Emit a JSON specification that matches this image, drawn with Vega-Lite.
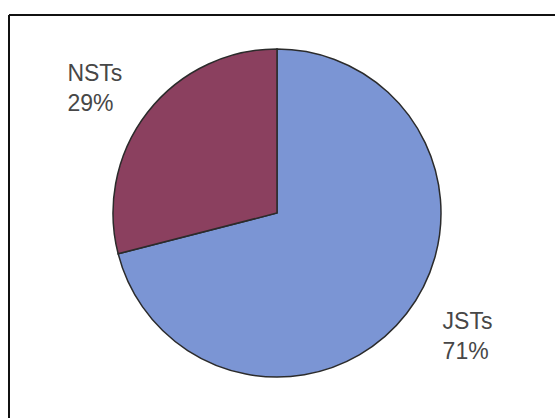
{
  "$schema": "https://vega.github.io/schema/vega-lite/v6.json",
  "width": 536,
  "height": 396,
  "autosize": {"type": "none"},
  "padding": {"left": 9, "top": 15, "right": 10, "bottom": 7},
  "background": "white",
  "view": {"stroke": null},
  "data": {
    "values": [
      {"category": "JSTs", "share": 71},
      {"category": "NSTs", "share": 29}
    ]
  },
  "layer": [
    {
      "data": {"values": [{"edge": "left"}]},
      "mark": {"type": "rule", "stroke": "#111111", "strokeWidth": 2},
      "encoding": {
        "x": {"value": 0},
        "y": {"value": 0},
        "y2": {"value": {"expr": "height + 20"}}
      }
    },
    {
      "data": {"values": [{"edge": "top"}]},
      "mark": {"type": "rule", "stroke": "#111111", "strokeWidth": 2},
      "encoding": {
        "y": {"value": 0},
        "x": {"value": 0},
        "x2": {"value": {"expr": "width + 20"}}
      }
    },
    {
      "mark": {"type": "arc", "outerRadius": 164, "stroke": "#2b2b2b", "strokeWidth": 1.5},
      "encoding": {
        "theta": {"field": "share", "type": "quantitative", "stack": true},
        "color": {
          "field": "category",
          "type": "nominal",
          "scale": {"domain": ["JSTs", "NSTs"], "range": ["#7b95d4", "#8b405f"]},
          "legend": null
        },
        "order": {"field": "category", "sort": "ascending"}
      }
    },
    {
      "transform": [
        {"calculate": "datum.category + '\\n' + datum.share + '%'", "as": "label"}
      ],
      "mark": {
        "type": "text",
        "radius": 225,
        "align": "left",
        "baseline": "middle",
        "dx": -22,
        "dy": -15,
        "lineBreak": "\n",
        "lineHeight": 30,
        "font": "Liberation Sans",
        "fontSize": 23,
        "fill": "#474747"
      },
      "encoding": {
        "theta": {
          "field": "share",
          "type": "quantitative",
          "stack": true,
          "scale": {"range": [-0.075, 6.2082]}
        },
        "order": {"field": "category", "sort": "ascending"},
        "text": {"field": "label"}
      }
    }
  ],
  "resolve": {"scale": {"theta": "independent"}}
}
